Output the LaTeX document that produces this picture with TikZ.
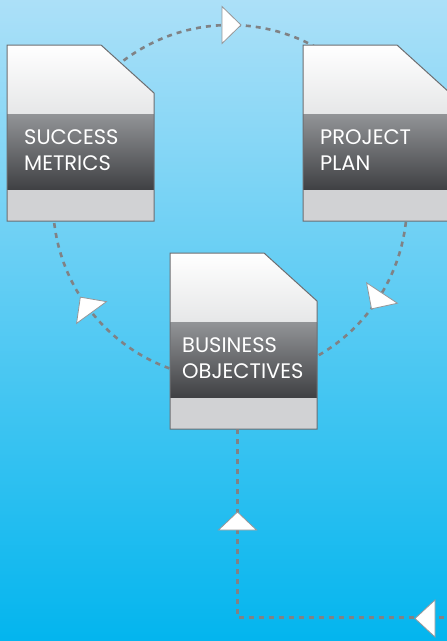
\documentclass[tikz,border=0pt]{standalone}
\usepackage{fontspec}
\setmainfont{Poppins}
\usetikzlibrary{calc}
\definecolor{skytop}{RGB}{172,224,248}
\definecolor{skymid}{RGB}{91,203,242}
\definecolor{skylow}{RGB}{3,181,238}
\definecolor{flowgray}{RGB}{128,130,133}
\definecolor{trigray}{RGB}{150,151,153}
\definecolor{docedge}{RGB}{109,110,113}
\definecolor{pagelow}{RGB}{230,231,232}
\definecolor{bandtop}{RGB}{146,148,151}
\definecolor{bandlow}{RGB}{63,64,67}
\definecolor{docfoot}{RGB}{209,210,212}
\tikzset{
  flow/.style={draw=flowgray, line width=2.6pt, dash pattern=on 5pt off 5pt},
  tri/.style={fill=white, draw=trigray, line width=0.8pt, line join=miter},
  docframe/.style={draw=docedge, line width=1pt, line join=miter},
  doclabel/.style={text=white, align=left, anchor=base west, inner sep=0pt,
    font=\fontsize{21}{26}\selectfont},
  docspot/.style={rectangle, inner sep=0pt, outer sep=0pt,
    minimum width=147pt, minimum height=176pt, anchor=north west},
}
% name, x, y, text offset, label
\newcommand{\paperdoc}[5]{%
  \node[docspot] (#1) at (#2,#3) {};
  \begin{scope}[shift={(#2,#3)}]
    \begin{scope}
      \clip (0,0) -- (94,0) -- (147,48) -- (147,176) -- (0,176) -- cycle;
      \shade[top color=white, bottom color=pagelow] (0,0) rectangle (147,69);
      \shade[top color=bandtop, bottom color=bandlow] (0,69) rectangle (147,145);
      \fill[docfoot] (0,145) rectangle (147,176);
    \end{scope}
    \draw[docframe] (0,0) -- (94,0) -- (147,48) -- (147,176) -- (0,176) -- cycle;
    % base anchor sits on the last line
    \node[doclabel] (#1-text) at (#4,125) {#5};
  \end{scope}
}
% white arrow tip on the ring, at angle #1
\newcommand{\ringtip}[1]{%
  \filldraw[tri] ($(ring)+(#1:177)+(#1+90:11)$)
    -- ($(ring)+(#1:177)+(#1+90:-8)+(#1:18.5)$)
    -- ($(ring)+(#1:177)+(#1+90:-8)+(#1:-18.5)$) -- cycle;
}

\begin{document}
\begin{tikzpicture}[x=1pt, y=-1pt]
  \clip (0,0) rectangle (447,641);
  \shade[top color=skytop, middle color=skymid, bottom color=skylow] (0,0) rectangle (447,641);

  % cycle
  \coordinate (ring) at (230,202);
  \draw[flow] (ring) circle (177);

  % feed line from the right
  \coordinate (foot) at (237.5,617.5);
  \coordinate (edge) at (452,617.5);

  \paperdoc{metrics}{7}{45}{17}{SUCCESS\\METRICS}
  \paperdoc{plan}{303}{45}{17}{PROJECT\\PLAN}
  \paperdoc{objectives}{170}{253}{12}{BUSINESS\\OBJECTIVES}

  \draw[flow] (foot |- objectives.south) -- (foot) -- (edge);

  \ringtip{-90}
  \ringtip{33.5}
  \ringtip{144}
  \filldraw[tri] (237.5,512) -- (256.5,530) -- (218.5,530) -- cycle;
  \filldraw[tri] (415,618.5) -- (435,600) -- (435,637) -- cycle;
\end{tikzpicture}
\end{document}
